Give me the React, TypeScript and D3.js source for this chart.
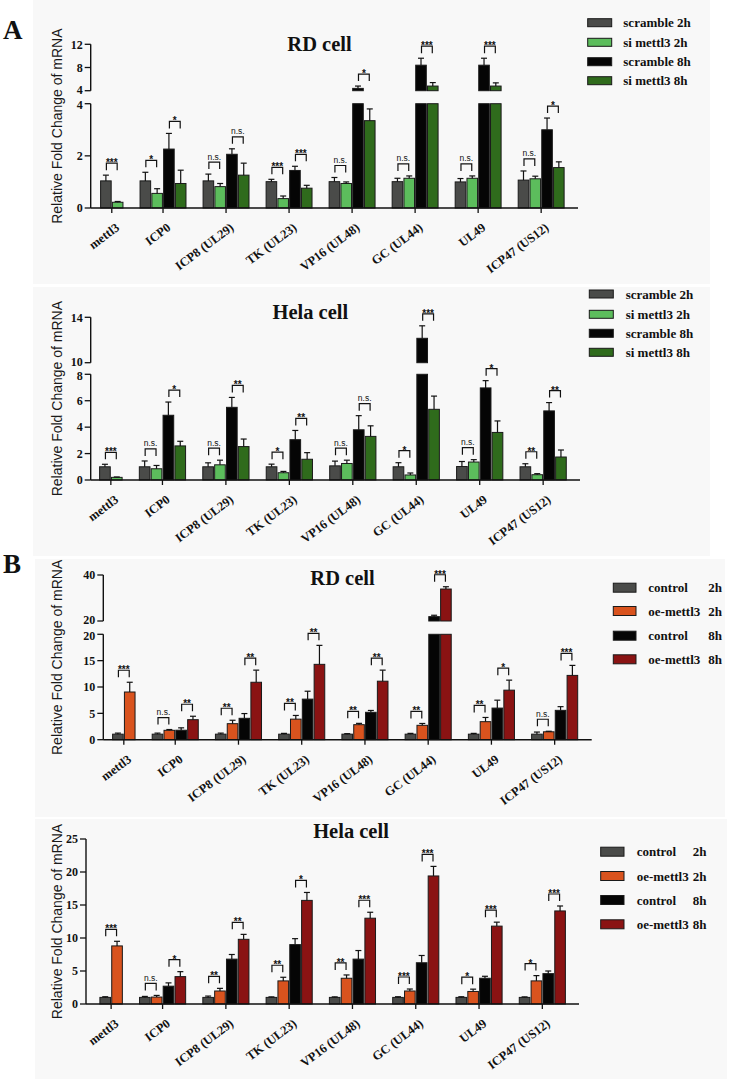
import React from "react";
import * as d3 from "d3";

const SERIF = '"Liberation Serif","Times New Roman",serif';
const SANS = '"Liberation Sans",Arial,sans-serif';

// ---------------- DATA ----------------
const categories = ["mettl3", "ICP0", "ICP8 (UL29)", "TK (UL23)", "VP16 (UL48)", "GC (UL44)", "UL49", "ICP47 (US12)"];

// A – RD cell (knock-down)
const rdSiScr2h = [1.04, 1.04, 1.04, 1.01, 1.01, 1.01, 1.0, 1.07];
const rdSiScr2hErr = [0.22, 0.33, 0.26, 0.09, 0.16, 0.13, 0.13, 0.35];
const rdSiSi2h = [0.22, 0.56, 0.82, 0.36, 0.94, 1.14, 1.14, 1.12];
const rdSiSi2hErr = [0.03, 0.18, 0.12, 0.1, 0.06, 0.09, 0.09, 0.1];
const rdSiScr8h = [null, 2.26, 2.06, 1.44, 4.4, 8.4, 8.4, 3.0];
const rdSiScr8hErr = [null, 0.6, 0.21, 0.16, 0.4, 1.2, 1.2, 0.45];
const rdSiSi8h = [null, 0.94, 1.26, 0.76, 3.35, 4.8, 4.8, 1.55];
const rdSiSi8hErr = [null, 0.51, 0.46, 0.11, 0.45, 0.6, 0.55, 0.22];
const rdSiSig2h = ["***", "*", "n.s.", "***", "n.s.", "n.s.", "n.s.", "n.s."];
const rdSiSig8h = [null, "*", "n.s.", "***", "*", "***", "***", "*"];

// A – Hela cell (knock-down)
const helaSiScr2h = [1.0, 1.0, 1.0, 1.0, 1.07, 1.0, 1.02, 1.0];
const helaSiScr2hErr = [0.19, 0.44, 0.3, 0.2, 0.36, 0.31, 0.38, 0.23];
const helaSiSi2h = [0.2, 0.85, 1.15, 0.55, 1.25, 0.38, 1.36, 0.4];
const helaSiSi2hErr = [0.03, 0.25, 0.35, 0.1, 0.25, 0.15, 0.18, 0.08];
const helaSiScr8h = [null, 4.9, 5.5, 3.05, 3.8, 12.15, 6.97, 5.23];
const helaSiScr8hErr = [null, 1.0, 0.75, 0.7, 1.07, 1.1, 0.55, 0.63];
const helaSiSi8h = [null, 2.58, 2.53, 1.57, 3.3, 5.35, 3.6, 1.74];
const helaSiSi8hErr = [null, 0.35, 0.57, 0.5, 0.8, 1.0, 0.87, 0.53];
const helaSiSig2h = ["***", "n.s.", "n.s.", "*", "n.s.", "*", "n.s.", "**"];
const helaSiSig8h = [null, "*", "**", "**", "n.s.", "***", "*", "**"];

// B – RD cell (over-expression)
const rdOeCtl2h = [1.05, 1.05, 1.05, 1.05, 1.05, 1.05, 1.05, 1.05];
const rdOeCtl2hErr = [0.2, 0.2, 0.2, 0.15, 0.1, 0.15, 0.15, 0.4];
const rdOeOe2h = [9.05, 1.78, 3.04, 3.9, 2.85, 2.73, 3.42, 1.5];
const rdOeOe2hErr = [1.85, 0.15, 0.65, 0.7, 0.25, 0.35, 0.8, 0.1];
const rdOeCtl8h = [null, 1.8, 4.06, 7.7, 5.2, 21.9, 6.0, 5.57];
const rdOeCtl8hErr = [null, 0.45, 0.9, 1.5, 0.35, 0.6, 1.5, 0.7];
const rdOeOe8h = [null, 3.8, 10.9, 14.3, 11.1, 33.9, 9.4, 12.2];
const rdOeOe8hErr = [null, 0.65, 2.3, 3.6, 2.1, 1.0, 1.9, 1.9];
const rdOeSig2h = ["***", "n.s.", "**", "**", "**", "**", "**", "n.s."];
const rdOeSig8h = [null, "**", "**", "**", "**", "***", "*", "***"];

// B – Hela cell (over-expression)
const helaOeCtl2h = [1.0, 1.0, 1.0, 1.0, 1.0, 1.0, 1.0, 1.0];
const helaOeCtl2hErr = [0.1, 0.15, 0.2, 0.08, 0.08, 0.1, 0.1, 0.08];
const helaOeOe2h = [8.8, 1.05, 1.97, 3.5, 3.9, 1.97, 1.9, 3.5];
const helaOeOe2hErr = [0.7, 0.25, 0.4, 0.55, 0.5, 0.3, 0.35, 0.8];
const helaOeCtl8h = [null, 2.7, 6.8, 9.0, 6.8, 6.25, 3.9, 4.6];
const helaOeCtl8hErr = [null, 0.5, 0.7, 0.9, 1.3, 1.1, 0.3, 0.4];
const helaOeOe8h = [null, 4.15, 9.8, 15.7, 13.0, 19.4, 11.8, 14.1];
const helaOeOe8hErr = [null, 0.75, 0.75, 1.2, 0.9, 1.45, 0.6, 0.75];
const helaOeSig2h = ["***", "n.s.", "**", "**", "**", "***", "*", "*"];
const helaOeSig8h = [null, "*", "**", "*", "***", "***", "***", "***"];

const siLegend = ["scramble 2h", "si mettl3 2h", "scramble 8h", "si mettl3 8h"];
const oeLegendNames = ["control", "oe-mettl3", "control", "oe-mettl3"];
const oeLegendTimes = ["2h", "2h", "8h", "8h"];

// ---------------- STYLE ----------------
const siColors = ["#4a4b49", "#5cbd5c", "#050505", "#2f6b1c"];
const oeColors = ["#4a4b49", "#d9531e", "#050505", "#8a1313"];
const GAP = 1.35;
const LABEL_ANGLE = -37;

type Seg = { domain: [number, number]; range: [number, number]; ticks: number[] };

function Panel(props: any) {
  const { cfg, vals, errs, sig2, sig8, colors, legendNames, legendTimes } = props;
  const nSlots = categories.map((_, i) => (vals[2][i] == null ? 2 : 4));
  const starts: number[] = [];
  let acc = 0;
  nSlots.forEach((n) => {
    starts.push(acc);
    acc += n + GAP;
  });
  const total = acc - GAP;
  const x = d3.scaleLinear().domain([0, total]).range([cfg.barStart, cfg.barStart + total * cfg.slot]);
  const segs = (cfg.segs as Seg[]).map((s) => ({ ...s, scale: d3.scaleLinear().domain(s.domain).range(s.range) }));
  const lower = segs[0];
  const upper = segs[1];
  const inUpper = (v: number) => upper && v > upper.domain[0];
  const yTop = (v: number) => (inUpper(v) ? upper.scale(v) : lower.scale(Math.min(v, lower.domain[1])));
  const yErr = (v: number, e: number) => (inUpper(v) ? upper.scale(v + e) : lower.scale(v + e));
  const baseY = lower.scale(0);
  const topY = Math.min(...segs.map((s) => s.range[1]));
  const bw = cfg.slot - 1.2;

  const bars: any[] = [];
  const errEls: any[] = [];
  const brackets: any[] = [];
  const ticks: any[] = [];

  categories.forEach((cat, i) => {
    const n = nSlots[i];
    for (let s = 0; s < n; s++) {
      const v = vals[s][i];
      if (v == null) continue;
      const e = errs[s][i];
      const u = starts[i] + s;
      const bx = x(u) + 0.6;
      const lv = Math.min(v, lower.domain[1]);
      bars.push(
        <rect key={`b${i}-${s}-l`} x={bx} y={lower.scale(lv)} width={bw} height={baseY - lower.scale(lv)}
          fill={colors[s]} stroke="#1a1a1a" strokeWidth={1} />
      );
      if (inUpper(v)) {
        const y0 = upper.scale(upper.domain[0]);
        bars.push(
          <rect key={`b${i}-${s}-u`} x={bx} y={upper.scale(v)} width={bw} height={y0 - upper.scale(v)}
            fill={colors[s]} stroke="#1a1a1a" strokeWidth={1} />
        );
      }
      const cx = x(u + 0.5);
      const ye = yErr(v, e);
      errEls.push(
        <g key={`e${i}-${s}`} stroke="#111" strokeWidth={1.2}>
          <line x1={cx} x2={cx} y1={yTop(v)} y2={ye} />
          <line x1={cx - 3} x2={cx + 3} y1={ye} y2={ye} />
        </g>
      );
    }
    [[0, 1, sig2[i]], [2, 3, sig8[i]]].forEach(([a, b, lab]: any) => {
      if (lab == null || vals[a][i] == null) return;
      const t = Math.min(yErr(vals[a][i], errs[a][i]), yErr(vals[b][i], errs[b][i]));
      const legB = t - 5;
      const lineY = legB - 7;
      const x1 = x(starts[i] + a + 0.5) + 0.5;
      const x2 = x(starts[i] + b + 0.5) - 0.5;
      const isNs = lab === "n.s.";
      brackets.push(
        <g key={`br${i}-${a}`}>
          <path d={`M${x1},${legB}V${lineY}H${x2}V${legB}`} fill="none" stroke="#111" strokeWidth={1.2} />
          <text x={(x1 + x2) / 2} y={isNs ? lineY - 2.5 : lineY + 3} textAnchor="middle"
            fontFamily={SANS} fontSize={isNs ? 8.5 : 10} fontWeight={isNs ? "normal" : "bold"} fill="#111">
            {lab}
          </text>
        </g>
      );
    });
    const tx = x(starts[i] + n / 2);
    ticks.push(
      <g key={`t${i}`}>
        <line x1={tx} x2={tx} y1={baseY} y2={baseY + 5} stroke="#111" strokeWidth={1.3} />
        <g transform={`translate(${tx + 3},${baseY + 14})`}>
          <g transform={`rotate(${LABEL_ANGLE})`}>
            <text x={0} y={0} textAnchor="end" dy="0.72em" fontFamily={SERIF} fontWeight="bold" fontSize={12.5} fill="#111">
              {cat}
            </text>
          </g>
        </g>
      </g>
    );
  });

  const lg = cfg.legend;
  return (
    <g>
      <rect x={cfg.bg.x} y={cfg.bg.y} width={cfg.bg.w} height={cfg.bg.h} fill="#f8f8f8" />
      {segs.map((s, k) => (
        <g key={`seg${k}`}>
          <line x1={cfg.axisX} x2={cfg.axisX} y1={s.range[0]} y2={s.range[1]} stroke="#111" strokeWidth={1.4} />
          {s.ticks.map((t) => {
            let nudge = 0;
            if (segs.length > 1 && k === 0 && t === s.domain[1]) nudge = 1;
            if (segs.length > 1 && k === 1 && t === s.domain[0]) nudge = -1;
            return (
              <g key={`yt${k}-${t}`}>
                <line x1={cfg.axisX - 6} x2={cfg.axisX} y1={s.scale(t)} y2={s.scale(t)} stroke="#111" strokeWidth={1.3} />
                <text x={cfg.axisX - 8} y={s.scale(t) + nudge} dy="0.35em" textAnchor="end" fontFamily={SERIF}
                  fontWeight="bold" fontSize={12} fill="#111">
                  {t}
                </text>
              </g>
            );
          })}
        </g>
      ))}
      <g transform={`translate(${cfg.ylabX},${(baseY + topY) / 2})`}>
        <g transform="rotate(-90)">
          <text x={0} y={0} textAnchor="middle" dy="0.35em" fontFamily={SANS} fontSize={14} fill="#1a1a1a">
            Relative Fold Change of mRNA
          </text>
        </g>
      </g>
      {bars}
      {errEls}
      {brackets}
      <line x1={cfg.axisX} x2={cfg.axisRight} y1={baseY} y2={baseY} stroke="#111" strokeWidth={1.4} />
      {ticks}
      <text x={cfg.title.x} y={cfg.title.y} textAnchor="middle" fontFamily={SERIF} fontWeight="bold" fontSize={20.5} fill="#111">
        {cfg.title.text}
      </text>
      {lg.rows.map((ry: number, k: number) => (
        <g key={`lg${k}`}>
          <rect x={lg.swX} y={ry - lg.swH / 2} width={lg.swW} height={lg.swH} fill={colors[k]} stroke="#1a1a1a" strokeWidth={1} />
          <text x={lg.textX} y={ry} dy="0.35em" fontFamily={SERIF} fontWeight="bold" fontSize={13} fill="#111">
            {legendNames[k]}
          </text>
          {legendTimes && (
            <text x={lg.timeX} y={ry} dy="0.35em" fontFamily={SERIF} fontWeight="bold" fontSize={13} fill="#111">
              {legendTimes[k]}
            </text>
          )}
        </g>
      ))}
    </g>
  );
}

const cfgA1 = {
  bg: { x: 33, y: 0, w: 677, h: 284 },
  axisX: 90.7, axisRight: 578, barStart: 100, slot: 11.78,
  segs: [
    { domain: [0, 4], range: [208, 103.7], ticks: [0, 2, 4] },
    { domain: [4, 12], range: [90.7, 44.3], ticks: [4, 8, 12] },
  ],
  title: { text: "RD cell", x: 319.5, y: 50.5 },
  ylabX: 57,
  legend: { swX: 587.7, swW: 24, swH: 8, textX: 623.3, rows: [22.7, 42.3, 61.7, 80.7] },
};
const cfgA2 = {
  bg: { x: 33, y: 287, w: 677, h: 269 },
  axisX: 90.7, axisRight: 580, barStart: 99, slot: 11.86,
  segs: [
    { domain: [0, 8], range: [480, 374.3], ticks: [0, 2, 4, 6, 8] },
    { domain: [10, 14], range: [362.7, 317.3], ticks: [10, 14] },
  ],
  title: { text: "Hela cell", x: 310.3, y: 319.3 },
  ylabX: 57,
  legend: { swX: 589.3, swW: 24, swH: 8, textX: 625.7, rows: [294, 314.3, 333.3, 352.3] },
};
const cfgB1 = {
  bg: { x: 35, y: 559, w: 690, h: 258 },
  axisX: 103.3, axisRight: 591.7, barStart: 112, slot: 11.82,
  segs: [
    { domain: [0, 20], range: [739.7, 634.3], ticks: [0, 5, 10, 15, 20] },
    { domain: [20, 40], range: [621, 575], ticks: [20, 40] },
  ],
  title: { text: "RD cell", x: 342.5, y: 585 },
  ylabX: 57,
  legend: { swX: 613.3, swW: 22.7, swH: 9, textX: 648.3, timeX: 708.3, rows: [587.7, 611, 635.7, 659.3] },
};
const cfgB2 = {
  bg: { x: 35, y: 819, w: 692, h: 260 },
  axisX: 86, axisRight: 579, barStart: 99.3, slot: 11.83,
  segs: [{ domain: [0, 25], range: [1004, 839], ticks: [0, 5, 10, 15, 20, 25] }],
  title: { text: "Hela cell", x: 351, y: 838.3 },
  ylabX: 57,
  legend: { swX: 600.7, swW: 23.3, swH: 9, textX: 636.7, timeX: 692.7, rows: [851.7, 876, 900, 924.3] },
};

export default function App() {
  return (
    <svg width={738} height={1079} style={{ position: "absolute", left: 0, top: 0, background: "#fff" }}>
      <rect x={0} y={0} width={738} height={1079} fill="#fff" />
      <Panel cfg={cfgA1}
        vals={[rdSiScr2h, rdSiSi2h, rdSiScr8h, rdSiSi8h]}
        errs={[rdSiScr2hErr, rdSiSi2hErr, rdSiScr8hErr, rdSiSi8hErr]}
        sig2={rdSiSig2h} sig8={rdSiSig8h} colors={siColors} legendNames={siLegend} />
      <Panel cfg={cfgA2}
        vals={[helaSiScr2h, helaSiSi2h, helaSiScr8h, helaSiSi8h]}
        errs={[helaSiScr2hErr, helaSiSi2hErr, helaSiScr8hErr, helaSiSi8hErr]}
        sig2={helaSiSig2h} sig8={helaSiSig8h} colors={siColors} legendNames={siLegend} />
      <Panel cfg={cfgB1}
        vals={[rdOeCtl2h, rdOeOe2h, rdOeCtl8h, rdOeOe8h]}
        errs={[rdOeCtl2hErr, rdOeOe2hErr, rdOeCtl8hErr, rdOeOe8hErr]}
        sig2={rdOeSig2h} sig8={rdOeSig8h} colors={oeColors} legendNames={oeLegendNames} legendTimes={oeLegendTimes} />
      <Panel cfg={cfgB2}
        vals={[helaOeCtl2h, helaOeOe2h, helaOeCtl8h, helaOeOe8h]}
        errs={[helaOeCtl2hErr, helaOeOe2hErr, helaOeCtl8hErr, helaOeOe8hErr]}
        sig2={helaOeSig2h} sig8={helaOeSig8h} colors={oeColors} legendNames={oeLegendNames} legendTimes={oeLegendTimes} />
      <text x={3} y={39} fontFamily={SERIF} fontWeight="bold" fontSize={27} fill="#111">A</text>
      <text x={3} y={573} fontFamily={SERIF} fontWeight="bold" fontSize={27} fill="#111">B</text>
    </svg>
  );
}
